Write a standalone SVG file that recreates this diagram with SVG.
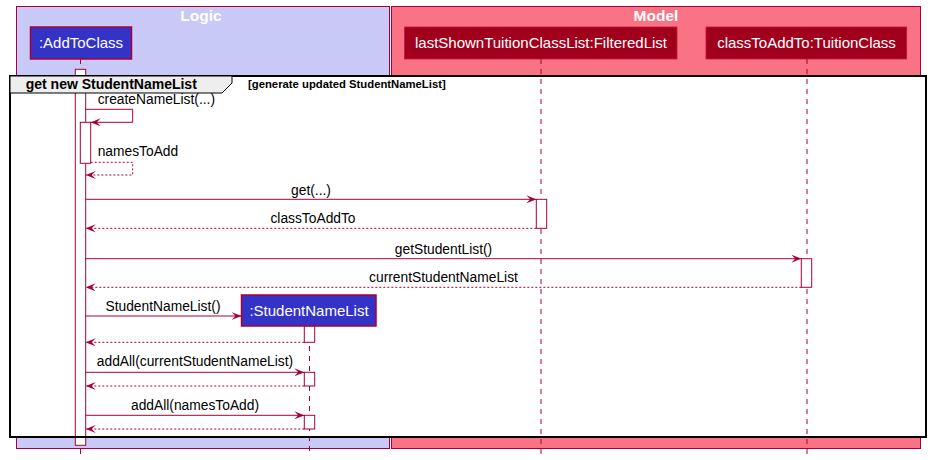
<svg xmlns="http://www.w3.org/2000/svg" width="931" height="460" viewBox="0 0 931 460">
<style>
.box{stroke:#A80036;stroke-width:1}
.lbl{font-family:"Liberation Sans",Arial,sans-serif;font-weight:bold;font-size:15.5px;fill:#FFFFFF;text-anchor:middle}
.pblue{fill:#3333C8;stroke:#A80036;stroke-width:1.5}
.pred{fill:#A0001C;stroke:#C8163A;stroke-width:0.8}
.ptxt{font-family:"Liberation Sans",Arial,sans-serif;font-size:15px;fill:#FFFFFF;text-anchor:middle}
.life{stroke:#A80036;stroke-width:1;stroke-dasharray:5,5;fill:none}
.act{fill:#FFFFFF;stroke:#A80036;stroke-width:1}
.msg{stroke:#A80036;stroke-width:1;fill:none;marker-end:url(#arr)}
.ret{stroke:#A80036;stroke-width:1;stroke-dasharray:2,2;fill:none;marker-end:url(#arr)}
.mt{font-family:"Liberation Sans",Arial,sans-serif;font-size:13.8px;fill:#000000}
.mc{text-anchor:middle}
.tab{font-family:"Liberation Sans",Arial,sans-serif;font-weight:bold;font-size:14px;fill:#000000}
.guard{font-family:"Liberation Sans",Arial,sans-serif;font-weight:bold;font-size:11.3px;fill:#000000}
</style>
<defs>
<marker id="arr" markerUnits="userSpaceOnUse" viewBox="0 0 10 8" refX="10" refY="4" markerWidth="10" markerHeight="8" orient="auto">
<path d="M0,0 L10,4 L0,8 L4,4 Z" fill="#A80036"/>
</marker>
</defs>

<g id="box-logic">
<rect class="box" x="16.5" y="6.5" width="373" height="442" fill="#C9C9F8"/>
<text class="lbl" x="201" y="21">Logic</text>
</g>
<g id="box-model">
<rect class="box" x="391.5" y="6.5" width="529" height="442" fill="#F97385"/>
<text class="lbl" x="656" y="21">Model</text>
</g>

<g id="p-addtoclass">
<rect class="pblue" x="30.5" y="27" width="101" height="32"/>
<text class="ptxt" x="81" y="48">:AddToClass</text>
</g>
<g id="p-filteredlist">
<rect class="pred" x="404.5" y="27" width="272.5" height="32"/>
<text class="ptxt" x="541" y="48">lastShownTuitionClassList:FilteredList</text>
</g>
<g id="p-tuitionclass">
<rect class="pred" x="706" y="27" width="200.7" height="32"/>
<text class="ptxt" x="806.5" y="48">classToAddTo:TuitionClass</text>
</g>

<rect id="frame-bg" x="10" y="76" width="916" height="361" fill="#FFFFFF"/>

<g id="lifelines">
<line class="life" x1="80.5" y1="59" x2="80.5" y2="455"/>
<line class="life" x1="541" y1="59" x2="541" y2="455"/>
<line class="life" x1="807" y1="59" x2="807" y2="455"/>
<line class="life" x1="309.5" y1="326" x2="309.5" y2="452"/>
</g>

<g id="activations">
<rect class="act" x="75.3" y="69.3" width="10.4" height="376"/>
<rect class="act" x="80.3" y="122.3" width="10.4" height="41"/>
<rect class="act" x="536.3" y="199.3" width="10.4" height="29"/>
<rect class="act" x="801.3" y="258.7" width="10.4" height="28.6"/>
<rect class="act" x="304.3" y="325.7" width="10.4" height="16.6"/>
<rect class="act" x="304.3" y="372.3" width="10.4" height="13.7"/>
<rect class="act" x="304.3" y="415.3" width="10.4" height="13.7"/>
</g>

<g id="frame">
<rect x="10" y="76" width="916" height="361" fill="none" stroke="#000000" stroke-width="2"/>
<path d="M10,76 L232,76 L232,83 L222,93 L10,93 Z" fill="#EEEEEE" stroke="#000000" stroke-width="1"/>
<text class="tab" x="25.7" y="89">get new StudentNameList</text>
<text class="guard" x="248" y="88">[generate updated StudentNameList]</text>
</g>

<g id="connectors">
<polyline class="msg" points="85.7,109.3 132.7,109.3 132.7,122.3 90.7,122.3"/>
<text class="mt" x="97.7" y="104">createNameList(...)</text>
<polyline class="ret" points="90.7,162.3 132.7,162.3 132.7,175 85.7,175"/>
<text class="mt" x="97.7" y="156">namesToAdd</text>
<line class="msg" x1="85.7" y1="199.3" x2="536.3" y2="199.3"/>
<text class="mt mc" x="311" y="195">get(...)</text>
<line class="ret" x1="536.3" y1="228.3" x2="85.7" y2="228.3"/>
<text class="mt mc" x="313" y="223">classToAddTo</text>
<line class="msg" x1="85.7" y1="258.7" x2="801.3" y2="258.7"/>
<text class="mt mc" x="443.5" y="254">getStudentList()</text>
<line class="ret" x1="801.3" y1="287.3" x2="85.7" y2="287.3"/>
<text class="mt mc" x="443.5" y="282">currentStudentNameList</text>
<line class="msg" x1="85.7" y1="316" x2="241.5" y2="316"/>
<text class="mt mc" x="163" y="311">StudentNameList()</text>
<line class="ret" x1="304.3" y1="342.3" x2="85.7" y2="342.3"/>
<line class="msg" x1="85.7" y1="372.3" x2="304.3" y2="372.3"/>
<text class="mt mc" x="195" y="366">addAll(currentStudentNameList)</text>
<line class="ret" x1="304.3" y1="386" x2="85.7" y2="386"/>
<line class="msg" x1="85.7" y1="415.3" x2="304.3" y2="415.3"/>
<text class="mt mc" x="195" y="410">addAll(namesToAdd)</text>
<line class="ret" x1="304.3" y1="429" x2="85.7" y2="429"/>
</g>

<g id="p-studentnamelist">
<rect class="pblue" x="241.5" y="295" width="134.5" height="31"/>
<text class="ptxt" x="309" y="316">:StudentNameList</text>
</g>
</svg>
